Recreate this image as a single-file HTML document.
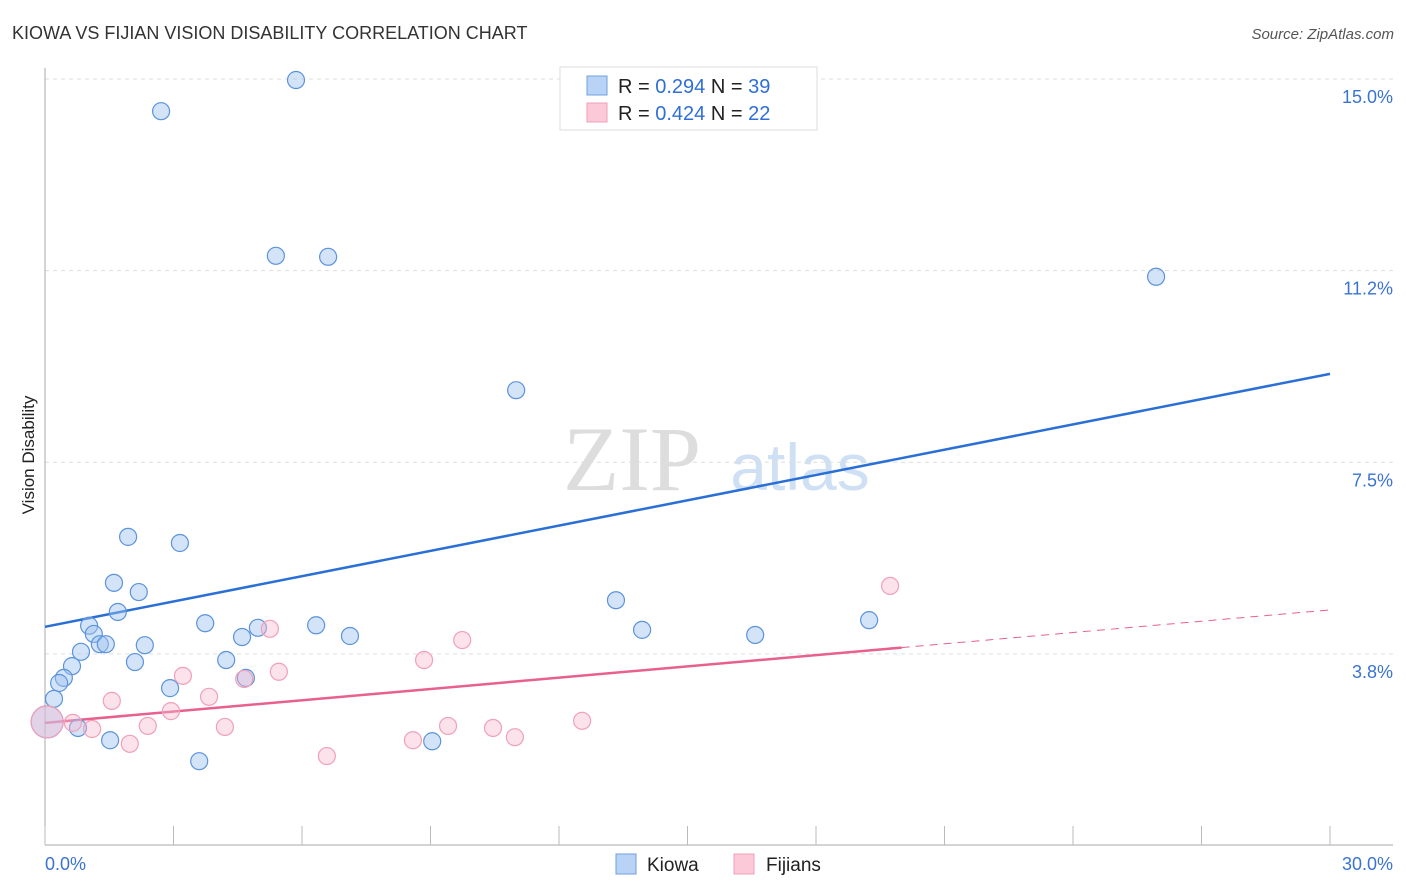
<!DOCTYPE html>
<html><head><meta charset="utf-8">
<style>
body{margin:0;background:#fff;font-family:"Liberation Sans",sans-serif;}
#wrap{position:relative;width:1406px;height:892px;overflow:hidden;}
</style></head>
<body>
<div id="wrap">
<svg id="svg" width="1406" height="892" xmlns="http://www.w3.org/2000/svg">
<text x="12" y="39" font-size="18" fill="#333">KIOWA VS FIJIAN VISION DISABILITY CORRELATION CHART</text>
<text x="1394" y="39" font-size="15" fill="#555" font-style="italic" text-anchor="end">Source: ZipAtlas.com</text>
<text x="632" y="490" font-size="92" fill="#ddd" font-family="Liberation Serif,serif" text-anchor="middle">ZIP</text>
<text x="800" y="490" font-size="66" fill="#cfe0f4" text-anchor="middle">atlas</text>
<text x="34" y="455" font-size="17" fill="#222" text-anchor="middle" transform="rotate(-90 34 455)">Vision Disability</text>
<g id="grid"></g><g id="axes"></g><g id="trend"></g><g id="pts"></g>
<g>
<rect x="560" y="67" width="257" height="63" fill="#fff" stroke="#ddd"/>
<rect x="587" y="76" width="20" height="19" fill="#b8d3f5" stroke="#6fa0e0"/>
<text x="618" y="93" font-size="20" fill="#222">R = <tspan fill="#2f6fd6">0.294</tspan>   N = <tspan fill="#2f6fd6">39</tspan></text>
<rect x="587" y="103" width="20" height="19" fill="#fbc9d8" stroke="#f0a0b8"/>
<text x="618" y="120" font-size="20" fill="#222">R = <tspan fill="#2f6fd6">0.424</tspan>   N = <tspan fill="#2f6fd6">22</tspan></text>
</g>
<text x="45" y="870" font-size="18" fill="#3a74d0">0.0%</text>
<text x="1393" y="870" font-size="18" fill="#3a74d0" text-anchor="end">30.0%</text>
<rect x="616" y="854" width="20" height="20" fill="#b8d3f5" stroke="#6fa0e0"/>
<text x="647" y="871" font-size="19" fill="#222">Kiowa</text>
<rect x="734" y="854" width="20" height="20" fill="#fbc9d8" stroke="#f0a0b8"/>
<text x="766" y="871" font-size="19" fill="#222">Fijians</text>
</svg>
</div>
<script>
const yTicks=[15.0,11.25,7.5,3.75];
const yTickLabels=["15.0%","11.2%","7.5%","3.8%"];
const kiowaX=[5.86,2.71,5.39,6.61,25.94,11.00,1.94,3.15,1.61,2.19,1.70,13.33,3.74,1.03,1.14,4.60,4.97,6.33,7.12,13.94,16.58,19.24,1.28,1.42,2.33,0.84,0.63,2.10,4.23,0.44,0.33,4.69,0.21,2.92,0.77,1.52,9.04,3.60,0.05];
const kiowaY=[14.98,14.37,11.54,11.52,11.13,8.91,6.04,5.92,5.14,4.96,4.57,4.80,4.35,4.30,4.14,4.08,4.26,4.31,4.10,4.22,4.12,4.41,3.94,3.94,3.92,3.79,3.51,3.59,3.63,3.28,3.18,3.28,2.87,3.08,2.30,2.06,2.04,1.65,2.42];
const fijiX=[5.25,9.74,19.73,8.85,3.22,5.46,4.65,1.56,3.83,2.94,0.65,1.10,2.40,4.20,9.41,10.46,12.54,10.97,8.59,1.98,6.58,0.05];
const fijiY=[4.24,4.02,5.08,3.63,3.32,3.40,3.26,2.83,2.91,2.63,2.40,2.28,2.34,2.32,2.34,2.30,2.44,2.12,2.06,1.99,1.75,2.42];
const kiowaTrend=[4.28,9.23];
const fijiTrend=[2.40,4.61];
const fijiSolidEnd=20;
const NS="http://www.w3.org/2000/svg";
function X(v){return 45+v*(1285/30);}
function Y(v){return 79+(15-v)*51.1;}
function mk(tag,attrs,parent){const e=document.createElementNS(NS,tag);for(const k in attrs)e.setAttribute(k,attrs[k]);document.getElementById(parent).appendChild(e);return e;}
yTicks.forEach((t,i)=>{
 const l=mk('line',{x1:45,x2:1393,y1:Y(t),y2:Y(t),stroke:'#ddd','stroke-dasharray':'4,4'},'grid');
 
 
 const tx=mk('text',{x:1393,y:Y(t)+24,'font-size':18,fill:'#3a74d0','text-anchor':'end'},'grid');
 tx.textContent=yTickLabels[i];
 
 
});
const ya=mk('line',{x1:45,x2:45,y1:68,y2:845,stroke:'#aaa'},'axes');


const xa=mk('line',{x1:45,x2:1393,y1:845,y2:845,stroke:'#aaa'},'axes');


for(let i=0;i<=10;i++){
 const t=mk('line',{x1:X(i*3),x2:X(i*3),y1:826,y2:845,stroke:'#bbb'},'axes');
 
 
}
function dot(x,y,r,f,s,name){
 const c=mk('circle',{cx:X(x),cy:Y(y),r:r,fill:f,stroke:s,'stroke-width':1.2},'pts');
 
 
}
kiowaX.forEach((x,i)=>dot(x,kiowaY[i],i===kiowaX.length-1?16:8.5,'rgba(160,196,240,0.45)','#5b93dc','kiowa-point'));
fijiX.forEach((x,i)=>dot(x,fijiY[i],i===fijiX.length-1?16:8.5,'rgba(247,182,204,0.4)','#f0a0b8','fijians-point'));
const kt=mk('line',{x1:X(0),y1:Y(kiowaTrend[0]),x2:X(30),y2:Y(kiowaTrend[1]),stroke:'#2a6fd6','stroke-width':2.5},'trend');


const fm=fijiTrend[0]+(fijiTrend[1]-fijiTrend[0])*fijiSolidEnd/30;
const ft=mk('line',{x1:X(0),y1:Y(fijiTrend[0]),x2:X(fijiSolidEnd),y2:Y(fm),stroke:'#e8608f','stroke-width':2.5},'trend');


const fd=mk('line',{x1:X(fijiSolidEnd),y1:Y(fm),x2:X(30),y2:Y(fijiTrend[1]),stroke:'#e8608f','stroke-width':1,'stroke-dasharray':'8,6'},'trend');


</script>
</body></html>
